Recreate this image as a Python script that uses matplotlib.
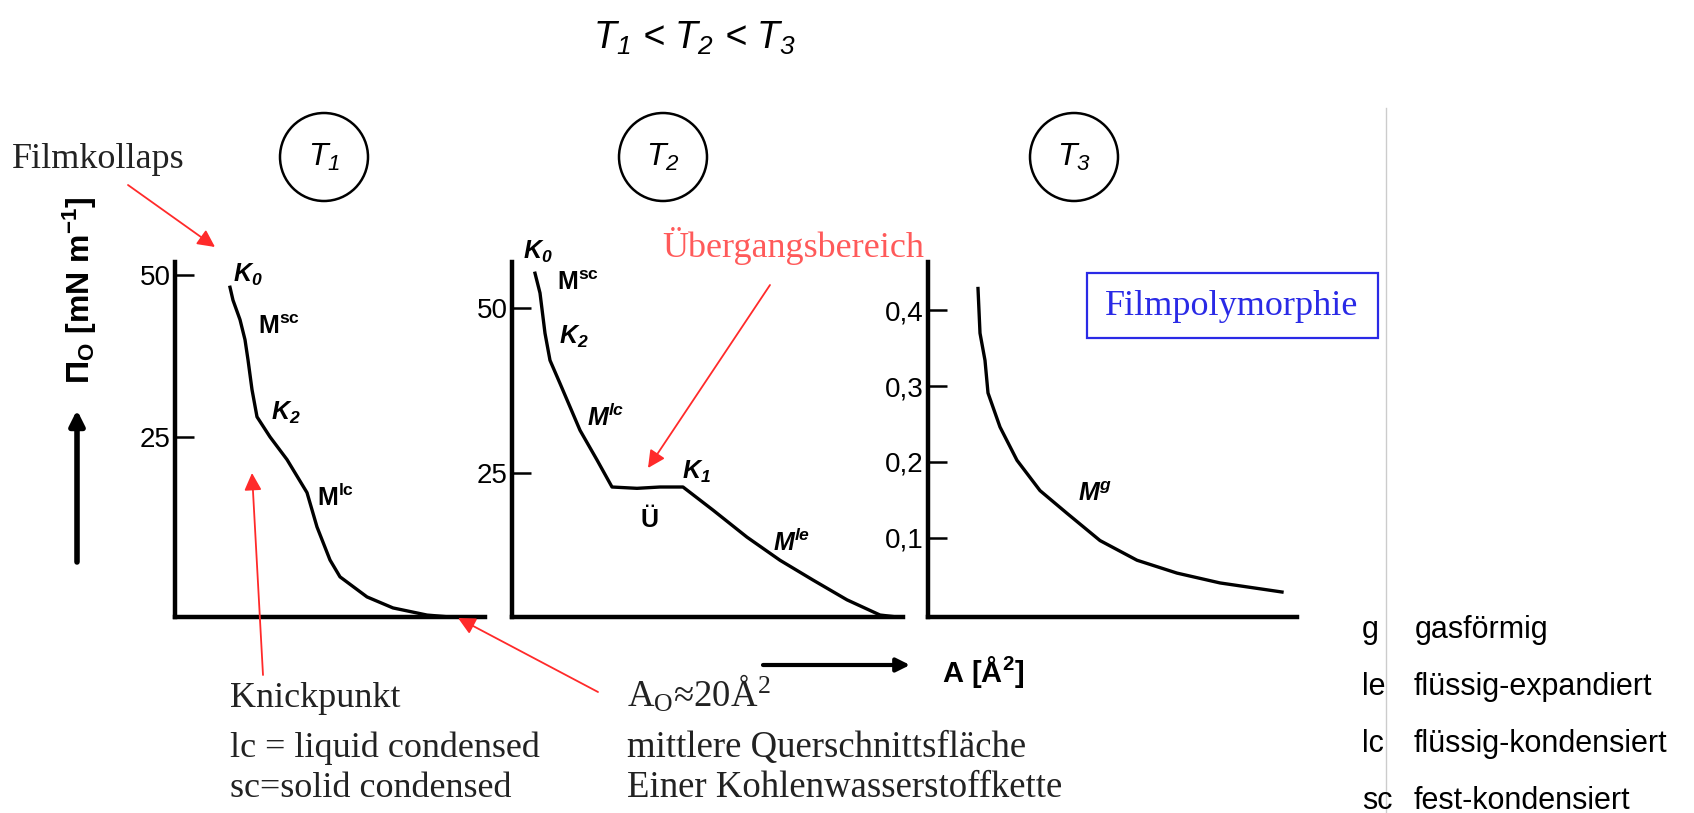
import matplotlib
matplotlib.use("Agg")
import matplotlib.pyplot as plt
from matplotlib.patches import Circle, Rectangle

plt.rcParams['font.family'] = ['Liberation Sans', 'DejaVu Sans']
plt.rcParams['mathtext.default'] = 'regular'

W, H = 1694, 813

##################### DATA (read off the scanned isotherms) ##########################
# x: molecular area (arbitrary sketch units), y: surface pressure
t1_area     = [5.5, 5.8, 6.5, 7.0, 7.3, 7.7, 8.2, 9.5, 11.2, 13.2, 14.2, 15.5, 16.5, 19.2, 21.8, 25.2, 27.5]
t1_pressure = [48.1, 46.1, 43.1, 40.0, 36.9, 32.3, 28.1, 25.0, 21.5, 16.4, 11.1, 6.0, 3.4, 0.3, -1.4, -2.5, -2.8]

t2_area     = [2.3, 2.8, 3.3, 3.8, 4.8, 6.8, 8.5, 10.0, 12.5, 14.8, 17.1, 20.1, 23.5, 26.8, 30.1, 33.5, 36.8, 38.5]
t2_pressure = [55.3, 52.3, 46.2, 42.1, 38.6, 31.5, 27.0, 22.9, 22.7, 22.9, 22.9, 19.4, 15.3, 11.8, 8.8, 5.8, 3.5, 3.2]

t3_area     = [5.0, 5.2, 5.7, 6.0, 7.2, 8.9, 11.2, 13.9, 17.2, 20.9, 24.9, 29.2, 35.4]
t3_pressure = [0.429, 0.370, 0.334, 0.291, 0.246, 0.202, 0.162, 0.132, 0.096, 0.070, 0.053, 0.040, 0.028]

t12_ticks  = [25, 50]
t12_labels = ['25', '50']
t3_ticks   = [0.1, 0.2, 0.3, 0.4]
t3_labels  = ['0,1', '0,2', '0,3', '0,4']

# curve labels: (text, x, y, italic)
t1_notes = [(r'$K_0$', 7.3, 50.0, True), (r'M$^{sc}$', 10.4, 42.0, False),
            (r'$K_2$', 11.1, 28.7, True), (r'M$^{lc}$', 16.1, 15.6, False)]
t2_notes = [(r'$K_0$', 2.6, 58.5, True), (r'M$^{sc}$', 6.6, 53.8, False),
            (r'$K_2$', 6.2, 45.6, True), (r'M$^{lc}$', 9.4, 33.5, True),
            (r'Ü', 13.7, 17.9, False), (r'$K_1$', 18.5, 25.2, True),
            (r'M$^{le}$', 28.0, 14.5, True)]
t3_notes = [(r'M$^{g}$', 16.7, 0.157, True)]

legend_abbr  = ['g', 'le', 'lc', 'sc']
legend_words = ['gasförmig', 'flüssig-expandiert', 'flüssig-kondensiert', 'fest-kondensiert']

########################### FIGURE ###############################
fig = plt.figure(figsize=(W / 100, H / 100), dpi=100)


def px_axes(left, top, right, bottom):
    return fig.add_axes([left / W, 1 - bottom / H, (right - left) / W, (bottom - top) / H])


def style_panel(ax, xlim, ylim, ticks, labels):
    ax.set_xlim(xlim)
    ax.set_ylim(ylim)
    ax.set_xticks([])
    ax.set_yticks(ticks, labels)
    for s in ['top', 'right']:
        ax.spines[s].set_visible(False)
    for s in ['left', 'bottom']:
        ax.spines[s].set_linewidth(3.2)
    ax.tick_params(axis='y', direction='in', length=14, width=1.8, labelsize=20, pad=3)
    ax.patch.set_alpha(0)


def put_notes(ax, notes):
    for txt, x, y, ital in notes:
        ax.text(x, y, txt, fontsize=18, fontweight='bold', ha='center', va='center',
                fontstyle='italic' if ital else 'normal')


ax1 = px_axes(175, 262, 485, 617)
ax1.plot(t1_area, t1_pressure, color='black', lw=2.4)
style_panel(ax1, (0, 31), (-2.8, 52), t12_ticks, t12_labels)
put_notes(ax1, t1_notes)

ax2 = px_axes(512, 262, 903, 617)
ax2.plot(t2_area, t2_pressure, color='black', lw=2.4)
style_panel(ax2, (0, 39.1), (3.2, 57), t12_ticks, t12_labels)
put_notes(ax2, t2_notes)

ax3 = px_axes(928, 262, 1297, 617)
ax3.plot(t3_area, t3_pressure, color='black', lw=2.4)
style_panel(ax3, (0, 36.9), (-0.005, 0.464), t3_ticks, t3_labels)
put_notes(ax3, t3_notes)

########################### ANNOTATION LAYER ###############################
ov = fig.add_axes([0, 0, 1, 1], zorder=5)
ov.set_xlim(0, W)
ov.set_ylim(H, 0)
ov.axis('off')
ov.patch.set_alpha(0)

ov.text(694, 38, r'$T_1$ < $T_2$ < $T_3$', fontsize=27, fontstyle='italic', ha='center', va='center')

for cx, lab in zip([324, 663, 1074], [r'$T_1$', r'$T_2$', r'$T_3$']):
    ov.add_patch(Circle((cx, 157), 44, fill=False, ec='black', lw=1.8))
    ov.text(cx, 157, lab, fontsize=23, fontstyle='italic', ha='center', va='center')

# y-axis label with arrow
ov.text(80, 290, r'$\Pi_O$ [mN m$^{-1}$]', rotation=90, fontsize=23, fontweight='bold',
        ha='center', va='center')
ov.annotate('', xy=(77, 410), xytext=(77, 562),
            arrowprops=dict(arrowstyle='-|>', color='black', lw=4, mutation_scale=22,
                            shrinkA=0, shrinkB=0))
# x-axis arrow
ov.annotate('', xy=(910, 665), xytext=(763, 665),
            arrowprops=dict(arrowstyle='-|>', color='black', lw=3, mutation_scale=20,
                            shrinkA=0, shrinkB=0))
ov.text(942, 672, r'A [Å$^2$]', fontsize=21, fontweight='bold', ha='left', va='center')

serif = ['Liberation Serif', 'DejaVu Serif']
red = '#ff2a2a'
ov.text(12, 168, 'Filmkollaps', family=serif, fontsize=26, color='#222222', va='baseline')
ov.text(662, 257, 'Übergangsbereich', family=serif, fontsize=26, color='#ff5a5a', va='baseline')

ov.add_patch(Rectangle((1087, 273), 291, 65, fill=False, ec='#2a2ae6', lw=1.6))
ov.text(1232, 306, 'Filmpolymorphie', family=serif, fontsize=26, color='#2a2ae6',
        ha='center', va='center')

for txt, y in zip(['Knickpunkt', 'lc = liquid condensed', 'sc=solid condensed'], [707, 757, 797]):
    ov.text(230, y, txt, family=serif, fontsize=26, color='#222222', va='baseline')
for txt, y in zip([r'A$_O$≈20Å$^2$', 'mittlere Querschnittsfläche', 'Einer Kohlenwasserstoffkette'],
                  [707, 757, 797]):
    ov.text(627, y, txt, family=serif, fontsize=26.5, color='#222222', va='baseline')

# red arrows (tail -> tip)
red_arrows = [((128, 185), (215, 247)), ((263, 675), (252, 473)),
              ((598, 692), (458, 618)), ((770, 285), (648, 468))]
for tail, tip in red_arrows:
    ov.annotate('', xy=tip, xytext=tail,
                arrowprops=dict(arrowstyle='-|>', color=red, lw=1.3, mutation_scale=26,
                                shrinkA=0, shrinkB=0))

# right-hand legend
ov.plot([1386, 1386], [108, 813], color='#cccccc', lw=1)
for i, (a, w) in enumerate(zip(legend_abbr, legend_words)):
    y = 638 + i * 57
    ov.text(1362, y, a, fontsize=22, va='baseline')
    ov.text(1414 if i else 1415, y, w, fontsize=22, va='baseline')

fig.savefig('out.png', dpi=100, facecolor='white')
